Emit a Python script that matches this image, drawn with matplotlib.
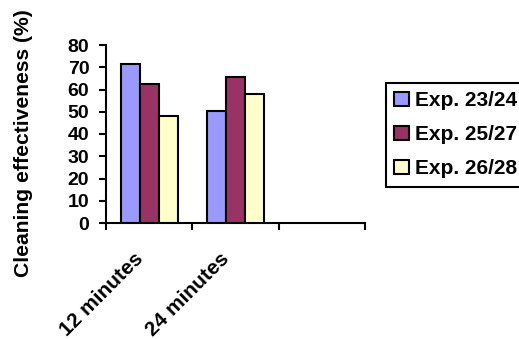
import matplotlib
matplotlib.use("Agg")
import matplotlib.pyplot as plt
import matplotlib.transforms as mtransforms
import numpy as np

# -------------------- data --------------------
categories = ["12 minutes", "24 minutes", ""]
series_names = ["Exp. 23/24", "Exp. 25/27", "Exp. 26/28"]
exp_23_24 = [71.5, 50.3, np.nan]
exp_25_27 = [62.3, 65.6, np.nan]
exp_26_28 = [48.2, 58.0, np.nan]
colors = ["#9999FF", "#993366", "#FFFFCC"]

plt.rcParams['font.family'] = ['Liberation Sans', 'DejaVu Sans']
plt.rcParams['font.weight'] = 'bold'

fig = plt.figure(figsize=(5.19, 3.39), dpi=100)
W, H = 519, 339
ax = fig.add_axes([106 / W, 1 - 223 / H, (365 - 106) / W, (223 - 45) / H])

x = np.arange(len(categories))
bar_w = 0.22
for i, (vals, name) in enumerate(zip([exp_23_24, exp_25_27, exp_26_28], series_names)):
    ax.bar(x + (i - 1) * bar_w, vals, width=bar_w, color=colors[i],
           edgecolor='black', linewidth=1.5, label=name, zorder=3)

ax.set_xlim(-0.5, len(categories) - 0.5)
ax.set_ylim(0, 80)
ax.set_yticks(np.arange(0, 81, 10))
ax.tick_params(axis='y', labelsize=14, length=5, width=1.5, pad=7)

# category labels at centres, tick marks at the boundaries
ax.set_xticks(x)
ax.set_xticklabels(categories, rotation=45, ha='right', va='center',
                   rotation_mode='anchor', fontsize=15, fontweight='bold')
ax.tick_params(axis='x', which='major', length=0, pad=24)
ax.set_xticks(np.arange(-0.5, len(categories), 1.0), minor=True)
ax.tick_params(axis='x', which='minor', length=5, width=1.5, direction='out')
offset = mtransforms.ScaledTranslation(-9 / 100, 0, fig.dpi_scale_trans)
for lab in ax.get_xticklabels():
    lab.set_transform(lab.get_transform() + offset)

for side in ['top', 'right']:
    ax.spines[side].set_visible(False)
for side in ['left', 'bottom']:
    ax.spines[side].set_linewidth(1.5)

fig.text(24 / W, 1 - 143 / H, "Cleaning effectiveness (%)", rotation=90,
         ha='center', va='center', fontsize=15.2, fontweight='bold')

leg = fig.legend(loc='upper left', bbox_to_anchor=(386 / W, 1 - 83 / H),
                 borderaxespad=0, fancybox=False, edgecolor='black',
                 framealpha=1, fontsize=15, handlelength=0.7, handleheight=0.7,
                 handletextpad=0.3, labelspacing=0.72, borderpad=0.4)
leg.get_frame().set_linewidth(1.5)
for h in leg.legend_handles:
    h.set_linewidth(1.5)

fig.savefig("out.png", dpi=100)
